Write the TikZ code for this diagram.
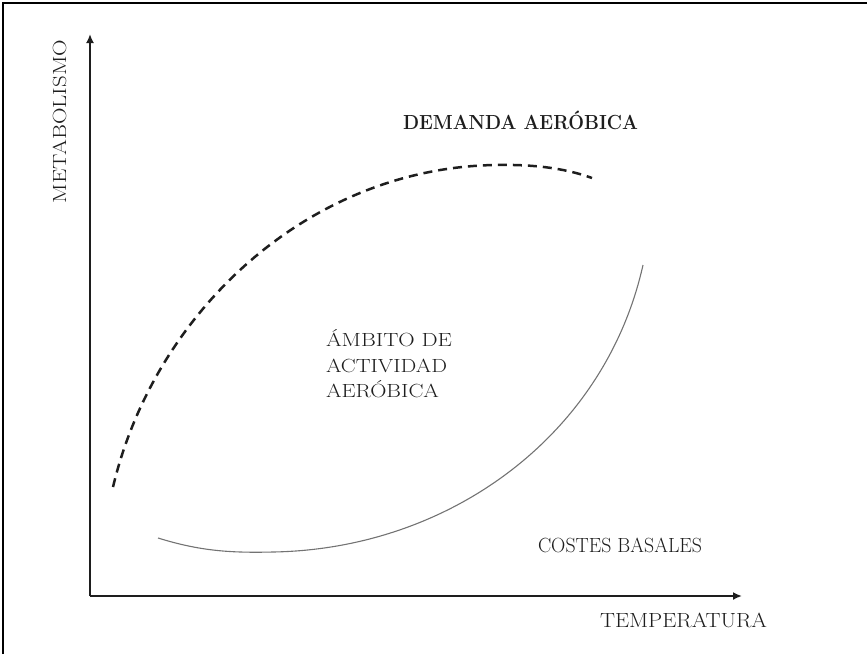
\documentclass[tikz,border=0pt]{standalone}
\usetikzlibrary{arrows.meta}
\definecolor{ink}{HTML}{1E1E1E}
\newcommand\capfit[3]{\resizebox{#1}{#2}{\raisebox{0pt}[\fontcharht\font`A][0pt]{#3}}}
\tikzset{
  axis/.style={draw=ink, line width=2.3pt, -{Latex[length=9pt,width=8pt]}},
  lbl/.style={anchor=base west, inner sep=0pt, outer sep=0pt, text=ink, font=\fontsize{20}{24}\selectfont},
  demand/.style={draw=ink, line width=2.5pt, dash pattern=on 9pt off 6pt},
  basal/.style={draw=black!55, line width=1.1pt},
  frame/.style={draw=black, line width=1.8pt}
}
\begin{document}
\begin{tikzpicture}[x=1pt,y=-1pt]
\useasboundingbox (0,0) rectangle (867,654);
\draw[frame] (3,654) -- (3,3) -- (867,3);
% axes
\coordinate (O) at (90,596);
\coordinate (ytip) at (90,34);
\coordinate (xtip) at (742,596);
\draw[axis] (O) -- (ytip);
\draw[axis] (O) -- (xtip);
% labels
\node[lbl, rotate=90] (ylab) at (66,203) {\capfit{163pt}{13pt}{METABOLISMO}};
\node[lbl] (xlab) at (600,627) {\capfit{167pt}{14pt}{TEMPERATURA}};
\node[lbl, font=\fontsize{20}{24}\selectfont\bfseries] (dem) at (403,129) {\capfit{235pt}{14pt}{DEMANDA AERÓBICA}};
\node[lbl] (amb1) at (326,346) {\capfit{126pt}{13pt}{ÁMBITO DE}};
\node[lbl] (amb2) at (326,372) {\capfit{121pt}{13pt}{ACTIVIDAD}};
\node[lbl] (amb3) at (326,397) {\capfit{113pt}{13pt}{AERÓBICA}};
\node[lbl] (cost) at (538,552) {\capfit{164pt}{14pt}{COSTES BASALES}};
% curves
\coordinate (d0) at (113,487);
\coordinate (dpk) at (495,165);
\coordinate (d1) at (592,178);
\draw[demand] (d0) .. controls (155,310) and (310,168) .. (dpk)
                   .. controls (540,164) and (570,170) .. (d1);
\coordinate (b0) at (158,538);
\coordinate (bmin) at (273,552);
\coordinate (b1) at (643,265);
\draw[basal] (b0) .. controls (200,551) and (230,553) .. (bmin)
                  .. controls (450,549) and (605,435) .. (b1);
\end{tikzpicture}
\end{document}
